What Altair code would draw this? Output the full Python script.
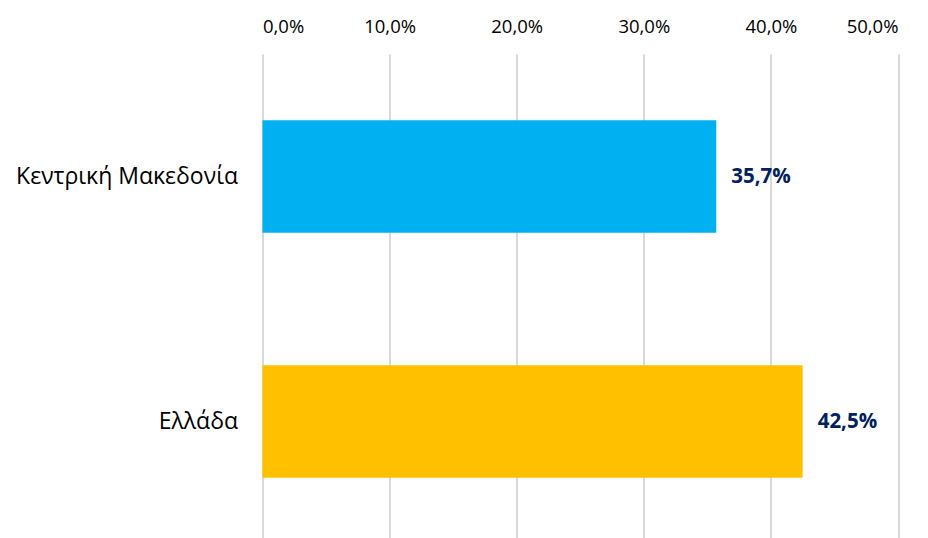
import altair as alt
import pandas as pd

categories = ["Κεντρική Μακεδονία", "Ελλάδα"]
values = [0.357, 0.425]
colors = ["#00B0F0", "#FFC000"]
labels = ["35,7%", "42,5%"]
ticks = [0, 0.1, 0.2, 0.3, 0.4, 0.5]

df = pd.DataFrame({"cat": categories, "val": values, "color": colors, "label": labels})

x = alt.X("val:Q", scale=alt.Scale(domain=[0, 0.5], nice=False),
          axis=alt.Axis(orient="top", values=ticks, format=".1%", title=None,
                        labelExpr="replace(format(datum.value, '.1%'), '.', ',')",
                        domain=False, ticks=False, grid=True, gridColor="#D9D9D9",
                        gridWidth=2, labelFont="Open Sans", labelFontSize=18.5,
                        labelColor="#000000", labelPadding=18))
y = alt.Y("cat:N", sort=categories, scale=alt.Scale(paddingInner=0.54, paddingOuter=0.27),
          axis=alt.Axis(title=None, domain=False, ticks=False, labelFont="Open Sans",
                        labelFontSize=23, labelColor="#000000", labelPadding=25,
                        labelLimit=400))

bars = alt.Chart(df).mark_bar().encode(x=x, y=y, color=alt.Color("color:N", scale=None))
text = alt.Chart(df).mark_text(align="left", dx=15, font="Open Sans", fontSize=20.5,
                               fontWeight="bold", color="#002060").encode(
    x="val:Q", y=alt.Y("cat:N", sort=categories), text="label:N")

chart = (bars + text).properties(
    width=635.5, height=490,
    autosize=alt.AutoSizeParams(type="none"),
    padding={"left": 254.5, "top": 46, "right": 20, "bottom": 0},
).configure_view(stroke=None)

chart.save("out.html", embed_options={"renderer": "svg", "actions": False})
